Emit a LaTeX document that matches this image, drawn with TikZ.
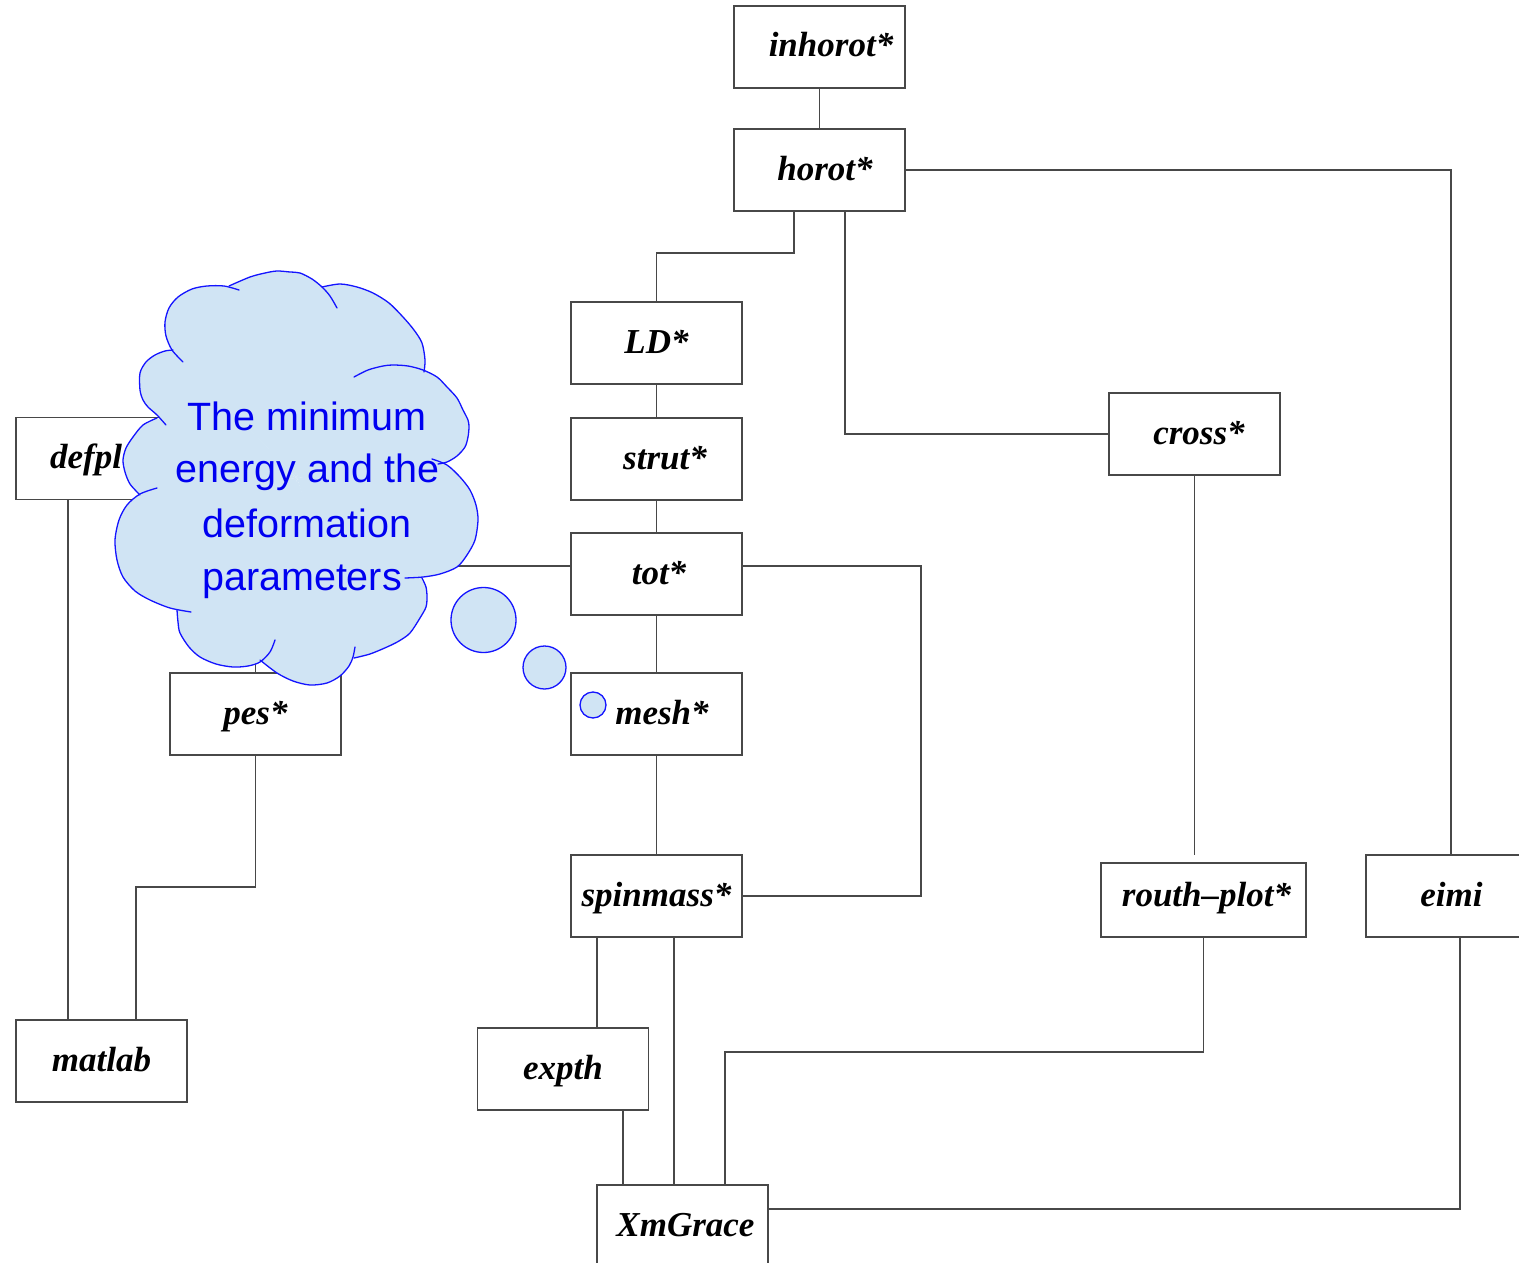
\documentclass[tikz,border=0pt]{standalone}
\usepackage{fontspec}
\setmainfont{Liberation Serif}
\newfontfamily\cloudfont{Liberation Sans}

\definecolor{wiregray}{RGB}{72,72,72}
\definecolor{cloudfill}{RGB}{208,228,244}
\definecolor{cloudrimcol}{RGB}{20,20,255}
\definecolor{cloudink}{RGB}{0,0,240}

% label set a little to the right of the box centre
\newcommand\rightof[2]{\hspace*{#1pt}#2}

% one lobe of the thought cloud: filled fan from the cloud centre, then its rim
\newcommand\cloudfan[1]{\fill[cloudfill] (297,478) -- plot[smooth] coordinates {#1} -- cycle;}
\newcommand\cloudrim[1]{\draw[cloudrimcol, line width=1.3pt, line cap=round] plot[smooth] coordinates {#1};}
% all lobes, listed clockwise starting at the top left
\newcommand\cloudlobes[1]{%
  #1{(183,362) (172,350) (166,336) (165,322) (169,308) (178,297) (192,289) (207,286) (224,286) (239,290)}%
  #1{(229,286) (250,277) (265,273) (277,271) (290,272) (300,273) (312,279) (322,287) (330,296) (337,308)}%
  #1{(322,287) (340,284) (357,287) (373,293) (389,303) (403,317) (414,330) (422,343) (425,360) (424,372)}%
  #1{(354,377) (368,370) (383,366) (393,365) (408,366) (423,370) (437,377) (447,387) (457,398) (463,410) (468,420) (469,427) (468,437) (465,447) (457,456) (447,462) (438,464)}%
  #1{(432,459) (447,465) (460,477) (470,490) (476,505) (478,520) (475,540) (467,555) (457,567) (440,574) (423,577) (405,578)}%
  #1{(422,578) (426,587) (427,597) (426,607) (420,618) (410,633) (399,641) (387,647) (370,654) (354,658)}%
  #1{(355,647) (353,657) (349,666) (340,676) (327,683) (310,685) (293,681) (277,673) (260,660)}%
  #1{(275,640) (270,652) (260,662) (248,666) (233,667) (216,664) (200,657) (189,647) (180,633) (178,622) (177,610)}%
  #1{(191,612) (170,608) (150,600) (135,591) (123,577) (117,560) (115,540) (119,520) (127,505) (140,494) (157,488)}%
  #1{(140,495) (130,484) (125,472) (123,460) (126,448) (133,437) (143,425) (157,418)}%
  #1{(166,425) (157,415) (148,407) (143,400) (140,390) (140,373) (146,362) (155,355) (165,351) (173,350)}%
}

\begin{document}
\begin{tikzpicture}[x=1pt, y=-1pt,
  box/.style={draw=wiregray, line width=1.8pt, fill=white,
    minimum width=171pt, minimum height=82pt, inner sep=0pt,
    text height=25pt, text depth=5pt,
    font=\fontsize{35}{42}\selectfont\bfseries\itshape},
  link/.style={draw=wiregray, line width=1.5pt},
  bubble/.style={draw=cloudrimcol, line width=1.3pt, fill=cloudfill},
  cloudtext/.style={anchor=base, inner sep=0pt, text=cloudink,
    font=\cloudfont\fontsize{39.5}{48}\selectfont}]

\useasboundingbox (0,0) rectangle (1519,1263);
\clip (0,0) rectangle (1519,1263);

% program units
\node[box] (inhorot)  at (819.5,47)   {\rightof{23}{inhorot*}};
\node[box] (horot)    at (819.5,170)  {\rightof{11}{horot*}};
\node[box] (LD)       at (656.5,343)  {LD*};
\node[box] (strut)    at (656.5,459)  {\rightof{17}{strut*}};
\node[box] (tot)      at (656.5,574)  {\rightof{5}{tot*}};
\node[box] (mesh)     at (656.5,714)  {\rightof{11}{mesh*}};
\node[box] (spinmass) at (656.5,896)  {spinmass*};
\node[box] (expth)    at (563,1069)   {expth};
\node[box] (xmgrace)  at (682.5,1226) {\rightof{6}{XmGrace}};
\node[box] (defpl)    at (101.5,458.5) {};
\node[anchor=base west, inner sep=0pt, font=\fontsize{35}{42}\selectfont\bfseries\itshape]
      (defpltext) at (50,468) {defpl};
\node[box] (pes)      at (255.5,714)  {pes*};
\node[box] (matlab)   at (101.5,1061) {matlab};
\node[box] (cross)    at (1194.5,434) {\rightof{9}{cross*}};
\node[box, minimum width=205pt, minimum height=74pt, text height=21pt, text depth=9pt]
      (routh) at (1203.5,900) {\rightof{6}{routh--plot*}};
\node[box] (eimi)     at (1451.5,896) {eimi};

% call tree
\draw[link] (inhorot) -- (horot);
\draw[link] (horot.east) -- (1451,0 |- horot.east) -- (1451,0 |- eimi.north);
\draw[link] (794,0 |- horot.south) -- (794,253) -| (LD.north);
\draw[link] (845,0 |- horot.south) |- (cross.west);
\draw[link] (LD) -- (strut);
\draw[link] (strut) -- (tot);
\draw[link] (tot) -- (mesh);
\draw[link] (mesh) -- (spinmass);
\draw[link] (tot.west |- 0,566) -| (pes.north);
\draw[link] (tot.east |- 0,566) -- (921,566) |- (spinmass.east);
\coordinate (crossend) at (cross.south |- 0,855);
\draw[link] (cross.south) -- (crossend);
\draw[link] (597,0 |- spinmass.south) -- (597,0 |- expth.north);
\draw[link] (674,0 |- spinmass.south) -- (674,0 |- xmgrace.north);
\draw[link] (623,0 |- expth.south) -- (623,0 |- xmgrace.north);
\draw[link] (routh.south) -- (routh.south |- 0,1052) -| (725,0 |- xmgrace.north);
\draw[link] (1460,0 |- eimi.south) -- (1460,1209) -- (xmgrace.north east |- 0,1209);
\draw[link] (68,0 |- defpl.south) -- (68,0 |- matlab.north);
\draw[link] (pes.south) -- (pes.south |- 0,887) -| (136,0 |- matlab.north);

% thought cloud
\cloudlobes\cloudfan
\cloudlobes\cloudrim
\draw[bubble] (483.5,620) circle (32.5);
\draw[bubble] (544.5,667.5) circle (21.5);
\draw[bubble] (593,705) circle (13);

\node[cloudtext] (note1) at (307,430)   {The minimum};
\node[cloudtext] (note2) at (307.5,482) {energy and the};
\node[cloudtext] (note3) at (307,537)   {deformation};
\node[cloudtext] (note4) at (302,590)   {parameters};
\end{tikzpicture}
\end{document}
